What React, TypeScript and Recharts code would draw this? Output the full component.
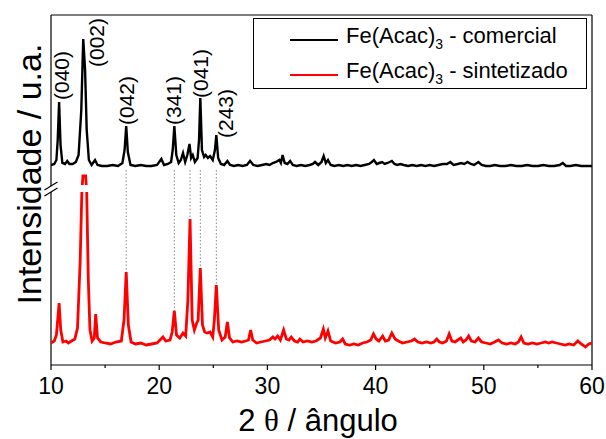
import {
  LineChart,
  Line,
  XAxis,
  YAxis,
  Legend,
  ReferenceLine,
  ReferenceArea,
  ReferenceDot,
} from "recharts";

const FONT = "'Liberation Sans', Arial, Helvetica, sans-serif";

// Fe(Acac)3 commercial (raw counts, stacked above the other trace)
const commercialTheta = [
  10.0, 10.3, 10.5, 10.62, 10.75, 10.88, 11.05, 11.3, 11.5, 11.7, 12.0, 12.3, 12.55, 12.8, 12.98, 13.15,
  13.3, 13.5, 13.75, 14.07, 14.3, 14.7, 15.2, 15.7, 16.2, 16.6, 16.8, 16.95, 17.1, 17.35, 17.8, 18.3,
  18.8, 19.3, 19.8, 20.2, 20.45, 20.8, 21.1, 21.25, 21.4, 21.58, 21.8, 22.0, 22.2, 22.4, 22.6, 22.8,
  22.95, 23.1, 23.3, 23.55, 23.68, 23.8, 23.95, 24.15, 24.3, 24.5, 24.7, 24.95, 25.15, 25.28, 25.45, 25.7,
  26.0, 26.3, 26.55, 26.9, 27.3, 27.7, 28.1, 28.4, 28.7, 29.1, 29.5, 29.9, 30.2, 30.5, 30.8, 31.1,
  31.25, 31.4, 31.6, 31.85, 32.1, 32.35, 32.7, 33.1, 33.5, 33.9, 34.2, 34.4, 34.7, 35.0, 35.2, 35.4,
  35.6, 35.85, 36.2, 36.6, 37.0, 37.4, 37.8, 38.2, 38.6, 39.0, 39.4, 39.65, 39.85, 40.1, 40.35, 40.6,
  40.85, 41.1, 41.3, 41.5, 41.75, 42.0, 42.3, 42.6, 43.0, 43.4, 43.8, 44.2, 44.6, 45.0, 45.4, 45.8,
  46.2, 46.6, 46.9, 47.2, 47.6, 47.9, 48.2, 48.5, 48.8, 49.1, 49.5, 49.8, 50.2, 50.6, 51.0, 51.5,
  52.0, 52.5, 53.0, 53.5, 54.0, 54.5, 55.0, 55.5, 56.0, 56.5, 57.0, 57.3, 57.6, 58.0, 58.5, 59.0,
  59.5, 60.0,
];
const commercialCounts = [
  220, 230, 270, 470, 850, 420, 240, 230, 260, 230, 230, 250, 320, 770, 1480, 1170,
  570, 270, 220, 270, 220, 210, 210, 220, 210, 240, 370, 610, 350, 220, 210, 220,
  210, 210, 220, 280, 220, 230, 250, 370, 610, 320, 240, 270, 340, 250, 320, 430,
  290, 320, 250, 290, 470, 890, 370, 300, 320, 290, 310, 270, 370, 520, 290, 230,
  220, 260, 220, 210, 220, 210, 220, 260, 220, 210, 220, 230, 220, 240, 250, 270,
  240, 320, 240, 230, 260, 220, 210, 220, 210, 220, 230, 250, 220, 250, 310, 240,
  270, 220, 210, 220, 210, 220, 210, 220, 210, 220, 230, 250, 270, 230, 240, 250,
  230, 240, 250, 260, 230, 220, 230, 220, 210, 220, 210, 220, 210, 220, 210, 220,
  230, 230, 250, 220, 230, 240, 230, 250, 230, 220, 250, 220, 210, 210, 220, 210,
  210, 220, 210, 210, 220, 210, 210, 220, 210, 210, 220, 240, 210, 210, 220, 210,
  210, 210,
];

// Fe(Acac)3 synthesized
const synthTheta = [
  10.0, 10.3, 10.5, 10.6, 10.75, 10.9, 11.1, 11.4, 11.6, 11.9, 12.2, 12.45, 12.7, 12.85, 12.95, 13.2,
  13.3, 13.45, 13.6, 13.8, 14.0, 14.13, 14.3, 14.6, 15.0, 15.5, 16.0, 16.5, 16.75, 16.95, 17.15, 17.4,
  17.8, 18.3, 18.8, 19.3, 19.8, 20.35, 20.6, 21.0, 21.2, 21.4, 21.6, 21.9, 22.2, 22.45, 22.65, 22.85,
  23.05, 23.25, 23.47, 23.6, 23.8, 24.0, 24.2, 24.45, 24.7, 24.95, 25.1, 25.28, 25.5, 25.8, 26.1, 26.3,
  26.5, 26.8, 27.2, 27.6, 28.0, 28.25, 28.45, 28.65, 29.0, 29.4, 29.8, 30.2, 30.5, 30.7, 30.95, 31.2,
  31.5, 31.75, 32.0, 32.2, 32.5, 32.8, 33.0, 33.3, 33.7, 34.1, 34.5, 34.9, 35.17, 35.35, 35.6, 35.85,
  36.3, 36.7, 36.95, 37.2, 37.6, 38.0, 38.4, 38.8, 39.2, 39.55, 39.8, 40.05, 40.3, 40.65, 40.9, 41.2,
  41.5, 41.8, 42.1, 42.5, 42.9, 43.3, 43.6, 43.9, 44.3, 44.7, 45.1, 45.4, 45.65, 45.9, 46.2, 46.55,
  46.8, 47.05, 47.35, 47.6, 47.87, 48.1, 48.35, 48.6, 48.85, 49.2, 49.5, 49.8, 50.2, 50.6, 51.0, 51.35,
  51.7, 52.1, 52.5, 52.9, 53.2, 53.45, 53.7, 54.1, 54.5, 54.9, 55.3, 55.7, 56.0, 56.3, 56.7, 57.1,
  57.5, 57.9, 58.3, 58.7, 59.0, 59.4, 59.7, 60.0,
];
const synthCounts = [
  220, 240, 300, 430, 620, 350, 230, 240, 220, 240, 260, 370, 1050, 1730, 1890, 1890,
  1730, 850, 350, 240, 270, 510, 270, 230, 220, 210, 230, 240, 450, 930, 400, 230,
  210, 220, 200, 210, 220, 280, 240, 250, 330, 540, 300, 270, 320, 290, 650, 1460,
  450, 350, 420, 450, 970, 400, 330, 320, 330, 280, 450, 800, 350, 250, 280, 430,
  270, 230, 240, 230, 240, 250, 350, 250, 220, 230, 240, 250, 280, 260, 290, 250,
  350, 260, 250, 280, 240, 230, 260, 230, 240, 230, 240, 270, 360, 270, 340, 240,
  220, 230, 260, 210, 200, 210, 200, 220, 230, 250, 310, 260, 240, 290, 240, 250,
  320, 260, 240, 220, 230, 240, 260, 230, 220, 230, 220, 230, 260, 230, 220, 240,
  310, 240, 230, 250, 270, 230, 250, 290, 240, 230, 270, 230, 220, 210, 230, 250,
  220, 210, 220, 210, 230, 280, 220, 210, 220, 210, 220, 230, 220, 230, 220, 210,
  200, 210, 200, 240, 210, 180, 210, 220,
];

const stackOffset = 1780;
const seriesNames = ["comercial", "sintetizado"];
const seriesColors = ["#000000", "#ff0000"];

const xTicks = [10, 15, 20, 25, 30, 35, 40, 45, 50, 55, 60];
const yTicks = [170, 560, 950, 1340, 2210, 2530, 2850, 3180];

// Miller indices of the marked reflections
const hklLabels = ["(040)", "(002)", "(042)", "(341)", "(041)", "(243)"];
const hklTheta = [11.0, 14.25, 17.0, 21.3, 23.8, 26.1];
const hklLevel = [2650, 2980, 2400, 2400, 2670, 2270];

// peaks linked between both patterns
const guideTheta = [16.95, 21.4, 22.85, 23.8, 25.28];

const commercial = commercialTheta.map((t, i) => ({ theta: t, value: commercialCounts[i] + stackOffset }));
const synthesized = synthTheta.map((t, i) => ({ theta: t, value: synthCounts[i] }));

function XTick({ x, y, payload }: any) {
  const major = payload.value % 10 === 0;
  return (
    <g>
      <line x1={x} y1={y} x2={x} y2={y + (major ? 5 : 3)} stroke="#000" strokeWidth={1.2} />
      {major && (
        <text x={x} y={y + 29} textAnchor="middle" fontSize={23} fontFamily={FONT} fill="#000">
          {payload.value}
        </text>
      )}
    </g>
  );
}

function YTick({ x, y }: any) {
  return <line x1={x} y1={y} x2={x + 4} y2={y} stroke="#000" strokeWidth={1.2} />;
}

function HklLabel(text: string) {
  return ({ viewBox }: any) => {
    const x = viewBox.x + (viewBox.width || 0) / 2;
    const y = viewBox.y + (viewBox.height || 0) / 2;
    return (
      <text
        x={x}
        y={y}
        transform={`rotate(-90 ${x} ${y})`}
        dominantBaseline="central"
        fontSize={21}
        fontFamily={FONT}
        fill="#000"
      >
        {text}
      </text>
    );
  };
}

// both axis titles
function AxisTitles() {
  return (
    <g>
      <text x={318} y={431} textAnchor="middle" fontSize={31} fontFamily={FONT} fill="#000">
        2 <tspan fontFamily="'Liberation Serif', 'Times New Roman', serif">θ</tspan> / ângulo
      </text>
      <text
        x={29}
        y={174}
        transform="rotate(-90 29 174)"
        textAnchor="middle"
        dominantBaseline="central"
        fontSize={34}
        fontFamily={FONT}
        fill="#000"
      >
        Intensidade / u.a.
      </text>
    </g>
  );
}

function LegendBox({ payload }: any) {
  return (
    <div
      style={{
        position: "relative",
        width: 334,
        height: 71,
        boxSizing: "border-box",
        border: "1px solid #000",
        background: "#fff",
        fontFamily: FONT,
        fontSize: 22,
        color: "#000",
      }}
    >
      {(payload || []).map((p: any, i: number) => (
        <div
          key={i}
          style={{ position: "absolute", left: 36, top: 3 + i * 35, display: "flex", alignItems: "center", whiteSpace: "nowrap" }}
        >
          <span style={{ display: "inline-block", width: 48, height: 2, background: p.color }} />
          <span style={{ marginLeft: 8, lineHeight: "28px" }}>
            Fe(Acac)<sub style={{ fontSize: 14, verticalAlign: "-6px" }}>3</sub> - {seriesNames[i]}
          </span>
        </div>
      ))}
    </div>
  );
}

export default function App() {
  return (
    <div style={{ position: "absolute", left: 0, top: 0, width: 606, height: 439, background: "#fff" }}>
      <LineChart width={606} height={439} margin={{ top: 15, right: 14, left: 51, bottom: 0 }}>
        <XAxis
          dataKey="theta"
          type="number"
          domain={[10, 60]}
          ticks={xTicks}
          allowDataOverflow
          height={74}
          tickSize={0}
          tickMargin={0}
          tick={<XTick />}
          axisLine={{ stroke: "#000", strokeWidth: 1.2 }}
          label={{ content: () => <AxisTitles /> }}
        />
        <YAxis
          type="number"
          domain={[0, 3500]}
          ticks={yTicks}
          allowDataOverflow
          width={0}
          tickSize={0}
          tickMargin={0}
          axisLine={false}
          tick={<YTick />}
        />
        <ReferenceLine y={3500} stroke="#000" strokeWidth={1.2} />
        <ReferenceLine x={60} stroke="#000" strokeWidth={1.2} />
        <ReferenceLine segment={[{ x: 10, y: 0 }, { x: 10, y: 1730 }]} stroke="#000" strokeWidth={1.2} />
        <ReferenceLine segment={[{ x: 10, y: 1790 }, { x: 10, y: 3500 }]} stroke="#000" strokeWidth={1.2} />
        <ReferenceLine
          segment={[{ x: 9.4, y: 1690 }, { x: 10.6, y: 1770 }]}
          stroke="#000"
          strokeWidth={1.2}
          ifOverflow="visible"
        />
        <ReferenceLine
          segment={[{ x: 9.4, y: 1750 }, { x: 10.6, y: 1830 }]}
          stroke="#000"
          strokeWidth={1.2}
          ifOverflow="visible"
        />
        {guideTheta.map((t) => (
          <ReferenceLine
            key={t}
            segment={[{ x: t, y: 1950 }, { x: t, y: synthCounts[synthTheta.indexOf(t)] }]}
            stroke="#8a8a8a"
            strokeWidth={1}
            strokeDasharray="1.5 2"
          />
        ))}
        <Line
          data={commercial}
          dataKey="value"
          name={`Fe(Acac)3 - ${seriesNames[0]}`}
          type="linear"
          stroke={seriesColors[0]}
          strokeWidth={2.4}
          dot={false}
          activeDot={false}
          isAnimationActive={false}
        />
        <Line
          data={synthesized}
          dataKey="value"
          name={`Fe(Acac)3 - ${seriesNames[1]}`}
          type="linear"
          stroke={seriesColors[1]}
          strokeWidth={2.8}
          dot={false}
          activeDot={false}
          isAnimationActive={false}
        />
        <ReferenceArea x1={12.5} x2={13.7} y1={1730} y2={1800} fill="#fff" fillOpacity={1} stroke="none" zIndex={1500} />
        {hklLabels.map((h, i) => (
          <ReferenceDot
            key={h}
            x={hklTheta[i]}
            y={hklLevel[i]}
            r={0}
            fill="none"
            stroke="none"
            label={{ content: HklLabel(h) }}
          />
        ))}
        <Legend
          layout="vertical"
          align="center"
          verticalAlign="middle"
          wrapperStyle={{ left: 253, top: 18, width: 334, height: 71 }}
          content={<LegendBox />}
        />
      </LineChart>
    </div>
  );
}
